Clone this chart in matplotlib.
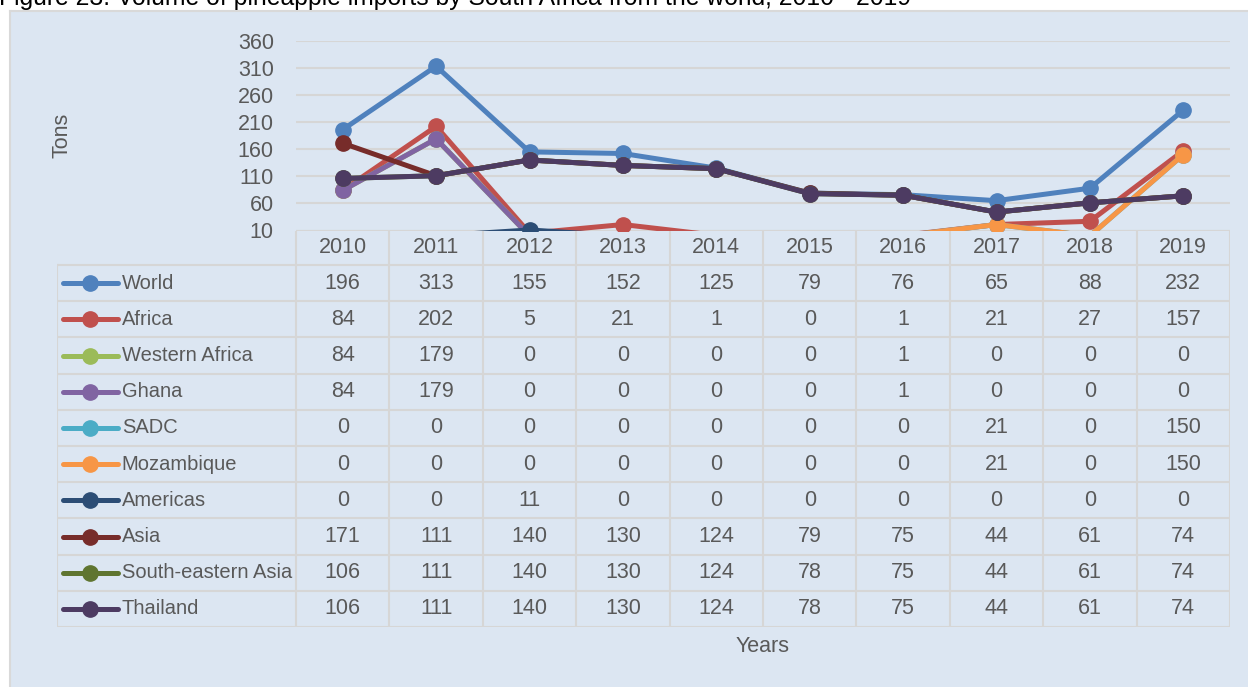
import numpy as np
import matplotlib
matplotlib.use("Agg")
import matplotlib.pyplot as plt
from matplotlib.lines import Line2D

plt.rcParams['font.family'] = ['Liberation Sans', 'DejaVu Sans']

years = [2010, 2011, 2012, 2013, 2014, 2015, 2016, 2017, 2018, 2019]
names = ["World", "Africa", "Western Africa", "Ghana", "SADC", "Mozambique",
         "Americas", "Asia", "South-eastern Asia", "Thailand"]
world = [196, 313, 155, 152, 125, 79, 76, 65, 88, 232]
africa = [84, 202, 5, 21, 1, 0, 1, 21, 27, 157]
western_africa = [84, 179, 0, 0, 0, 0, 1, 0, 0, 0]
ghana = [84, 179, 0, 0, 0, 0, 1, 0, 0, 0]
sadc = [0, 0, 0, 0, 0, 0, 0, 21, 0, 150]
mozambique = [0, 0, 0, 0, 0, 0, 0, 21, 0, 150]
americas = [0, 0, 11, 0, 0, 0, 0, 0, 0, 0]
asia = [171, 111, 140, 130, 124, 79, 75, 44, 61, 74]
se_asia = [106, 111, 140, 130, 124, 78, 75, 44, 61, 74]
thailand = [106, 111, 140, 130, 124, 78, 75, 44, 61, 74]
series = [world, africa, western_africa, ghana, sadc, mozambique,
          americas, asia, se_asia, thailand]
colors = ["#4f81bd", "#c0504d", "#9bbb59", "#8064a2", "#4bacc6", "#f79646",
          "#2c4d75", "#772c2a", "#5f7530", "#4d3b62"]
yticks = [10, 60, 110, 160, 210, 260, 310, 360]

W, H = 1248, 687
bg = "#dce6f2"
grid = "#d6d6d6"
txt = "#595959"
fs = 15.5      # numbers, axis text
fs_name = 14.5  # series names in the table (must fit the first column)
lw, ms = 3.6, 11

def rect(l, t, r, b):
    # pixel box -> figure fraction
    return [l / W, 1 - b / H, (r - l) / W, (b - t) / H]

fig = plt.figure(figsize=(W / 100, H / 100), dpi=100)
fig.patch.set_facecolor("white")

# panel behind everything
panel = fig.add_axes(rect(10, 11, W + 5, H + 5))
panel.set_facecolor(bg)
panel.set_xticks([]); panel.set_yticks([])
for s in panel.spines.values():
    s.set_color("#d9d9d9"); s.set_linewidth(1.5)
panel.set_zorder(0)

fig.text(-1 / W, 1 - 5 / H, "Figure 23: Volume of pineapple imports by South Africa from the world, 2010 - 2019",
         fontsize=17.8, color="black", va="baseline", ha="left")

# line chart
ax = fig.add_axes(rect(296, 40.7, 1230, 230.5))
ax.set_facecolor("none")
ax.set_zorder(2)
x = np.arange(len(years))
ymin, ymax = yticks[0], yticks[-1]
for i, (vals, c) in enumerate(zip(series, colors)):
    shown = [k for k, v in enumerate(vals) if v >= ymin]
    ax.plot(x, vals, color=c, lw=lw, marker="o", ms=ms, zorder=3 + i,
            markevery=shown, solid_capstyle="round")
ax.set_xlim(-0.5, len(years) - 0.5)
ax.set_ylim(ymin, ymax)
ax.set_yticks(yticks)
ax.set_yticklabels([str(v) for v in yticks], color=txt, fontsize=fs)
ax.tick_params(axis="y", length=0, pad=16)
ax.set_xticks([])
ax.grid(axis="y", color=grid, lw=1.5)
ax.set_axisbelow(True)
for s in ax.spines.values():
    s.set_visible(False)
ax.axhline(ymin, color=grid, lw=1.5, zorder=2)

fig.text(62 / W, 1 - 135 / H, "Tons", rotation=90, ha="center", va="center",
         color=txt, fontsize=fs)

# data table
tb = fig.add_axes(rect(57, 230.5, 1230, 627))
tb.set_facecolor("none")
tb.set_zorder(1)
left = -0.5 - (296 - 57) / 93.4
hdr = -0.5 - 34.5 / 36.2
tb.set_xlim(left, len(years) - 0.5)
tb.set_ylim(len(names) - 0.5, hdr)
tb.axis("off")

n = len(years)
for k in range(n + 1):
    tb.plot([k - 0.5, k - 0.5], [hdr, len(names) - 0.5], color=grid, lw=1.5)
tb.plot([left, left], [-0.5, len(names) - 0.5], color=grid, lw=1.5)
for r in range(len(names) + 1):
    tb.plot([left, n - 0.5], [r - 0.5, r - 0.5], color=grid, lw=1.5)

for j, yr in enumerate(years):
    tb.text(j, (hdr - 0.5) / 2, str(yr), ha="center", va="center", color=txt, fontsize=fs)

kx0 = -0.5 - (296 - 62.7) / 93.4
kx1 = -0.5 - (296 - 118) / 93.4
for r, (nm, vals, c) in enumerate(zip(names, series, colors)):
    tb.add_line(Line2D([kx0, kx1], [r, r], color=c, lw=lw, solid_capstyle="round"))
    tb.plot([(kx0 + kx1) / 2], [r], marker="o", ms=ms, color=c)
    tb.text(kx1 + 0.04, r, nm, ha="left", va="center", color=txt, fontsize=fs_name)
    for j, v in enumerate(vals):
        tb.text(j, r, str(v), ha="center", va="center", color=txt, fontsize=fs)

fig.text(763 / W, 1 - 647 / H, "Years", ha="center", va="center", color=txt, fontsize=fs)

fig.savefig("out.png", dpi=100, facecolor=fig.get_facecolor())
